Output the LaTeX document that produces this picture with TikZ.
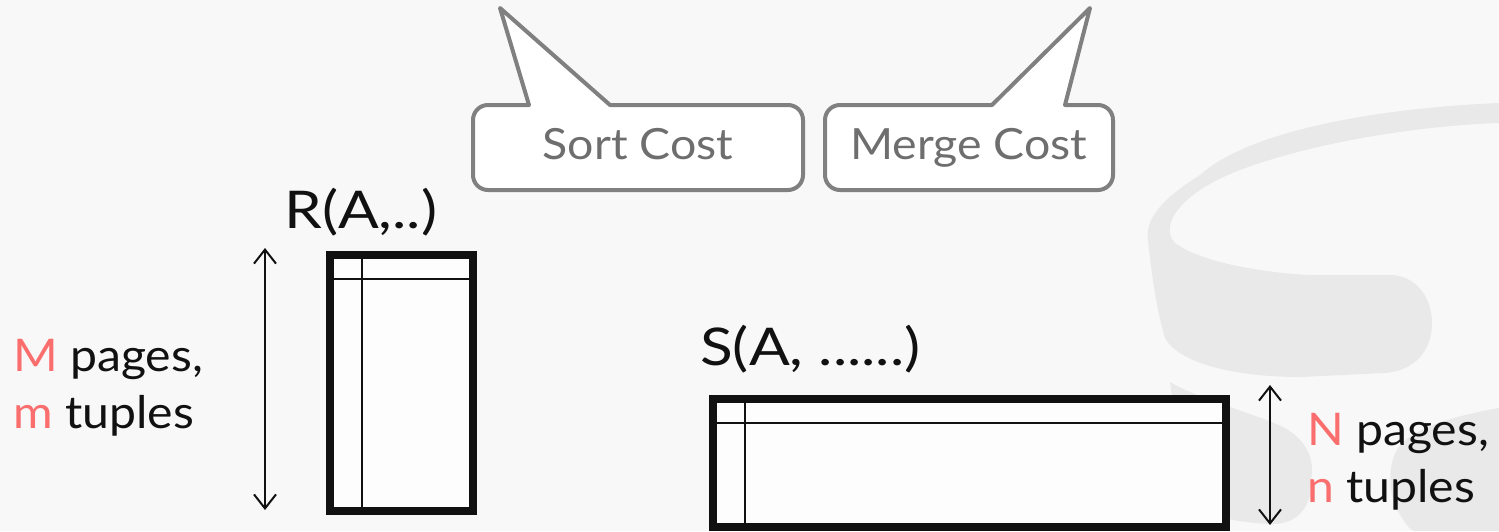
\documentclass[tikz,border=0pt]{standalone}
\usepackage{fontspec}
\setmainfont{Lato}
\newfontfamily\relfont[FakeStretch=1.16]{Lato}
\newfontfamily\labfont[FakeStretch=1.07]{Lato}
\newfontfamily\callfont[FakeStretch=1.08]{Lato}
\usetikzlibrary{arrows.meta}
\definecolor{bg}{HTML}{F8F8F8}
\definecolor{logo}{HTML}{E9E9E9}
\definecolor{callgray}{HTML}{808080}
\definecolor{calltext}{HTML}{6E6E6E}
\definecolor{hl}{HTML}{FA6E6E}
\definecolor{ink}{HTML}{111111}
\definecolor{paper}{HTML}{FDFDFD}
\begin{document}
\begin{tikzpicture}[x=1pt,y=-1pt,
  callout/.style={draw=callgray,line width=4pt,fill=white,line join=round},
  calllabel/.style={text=calltext,font=\callfont\fontsize{43}{50}\selectfont,inner sep=0pt,anchor=base},
  relname/.style={text=ink,font=\relfont\fontsize{52}{60}\selectfont,inner sep=0pt,anchor=base west},
  sizelabel/.style={text=ink,font=\labfont\fontsize{45}{56}\selectfont,inner sep=0pt,anchor=base west},
  table/.style={draw=ink,line width=7.5pt,fill=paper},
  grid/.style={draw=ink,line width=2pt},
  dimarrow/.style={draw=ink,line width=2pt,{Straight Barb[length=14pt,width=22pt]}-{Straight Barb[length=14pt,width=22pt]}}
]
\useasboundingbox (0,0) rectangle (1499,531);
\fill[bg] (0,0) rectangle (1499,531);
% faint background logo
\fill[logo] (1499,103) .. controls (1380,108) and (1250,130) .. (1200,175)
  .. controls (1160,200) and (1145,220) .. (1148,240)
  .. controls (1152,280) and (1158,315) .. (1165,338)
  .. controls (1180,365) and (1240,377) .. (1300,377)
  -- (1385,373) .. controls (1420,370) and (1433,345) .. (1432,320)
  .. controls (1430,292) and (1412,275) .. (1390,275)
  -- (1307,275) .. controls (1260,272) and (1200,262) .. (1175,243)
  .. controls (1160,228) and (1175,195) .. (1240,170)
  .. controls (1320,140) and (1430,125) .. (1499,123) -- cycle;
\fill[logo] (1170,382) .. controls (1200,400) and (1260,415) .. (1285,428)
  .. controls (1305,440) and (1312,455) .. (1312,470)
  -- (1310,495) .. controls (1305,515) and (1290,525) .. (1270,524)
  .. controls (1230,522) and (1200,515) .. (1185,495)
  .. controls (1178,460) and (1175,420) .. (1170,382) -- cycle;
\fill[logo] (1499,408) .. controls (1460,415) and (1420,425) .. (1400,445)
  .. controls (1388,460) and (1388,490) .. (1395,505)
  .. controls (1402,520) and (1410,531) .. (1415,531) -- (1499,531) -- cycle;

% callouts
\draw[callout] (500,8) -- (529,105) [rounded corners=15pt] -- (473,105) -- (473,190) -- (803,190) -- (803,105) [sharp corners] -- (610,105) -- cycle;
\node[calllabel] (sort) at (638,159) {Sort Cost};
\draw[callout] (1090,8) -- (1065,105) [rounded corners=15pt] -- (1113,105) -- (1113,190) -- (825,190) -- (825,105) [sharp corners] -- (992,105) -- cycle;
\node[calllabel] (merge) at (969,159) {Merge Cost};

% relation R
\node[relname] (rname) at (284,228) {R(A,..)};
\draw[table] (330,255) rectangle (473,511);
\draw[grid] (330,279) -- (473,279);
\draw[grid] (362,255) -- (362,511);
\coordinate (ra1) at (265,248);
\coordinate (ra2) at (265,510);
\draw[dimarrow] (ra1) -- (ra2);
\node[sizelabel] (mp) at (13,371) {\textcolor{hl}{M} pages,};
\node[sizelabel] (mt) at (13,428) {\textcolor{hl}{m} tuples};

% relation S
\node[relname] (sname) at (700,365) {S(A, ......)};
\draw[table] (713,399) rectangle (1226,527);
\draw[grid] (713,423) -- (1226,423);
\draw[grid] (745,399) -- (745,527);
\coordinate (sa1) at (1270,385);
\coordinate (sa2) at (1270,525);
\draw[dimarrow] (sa1) -- (sa2);
\node[sizelabel] (np) at (1307,445) {\textcolor{hl}{N} pages,};
\node[sizelabel] (nt) at (1307,502) {\textcolor{hl}{n} tuples};
\end{tikzpicture}
\end{document}
